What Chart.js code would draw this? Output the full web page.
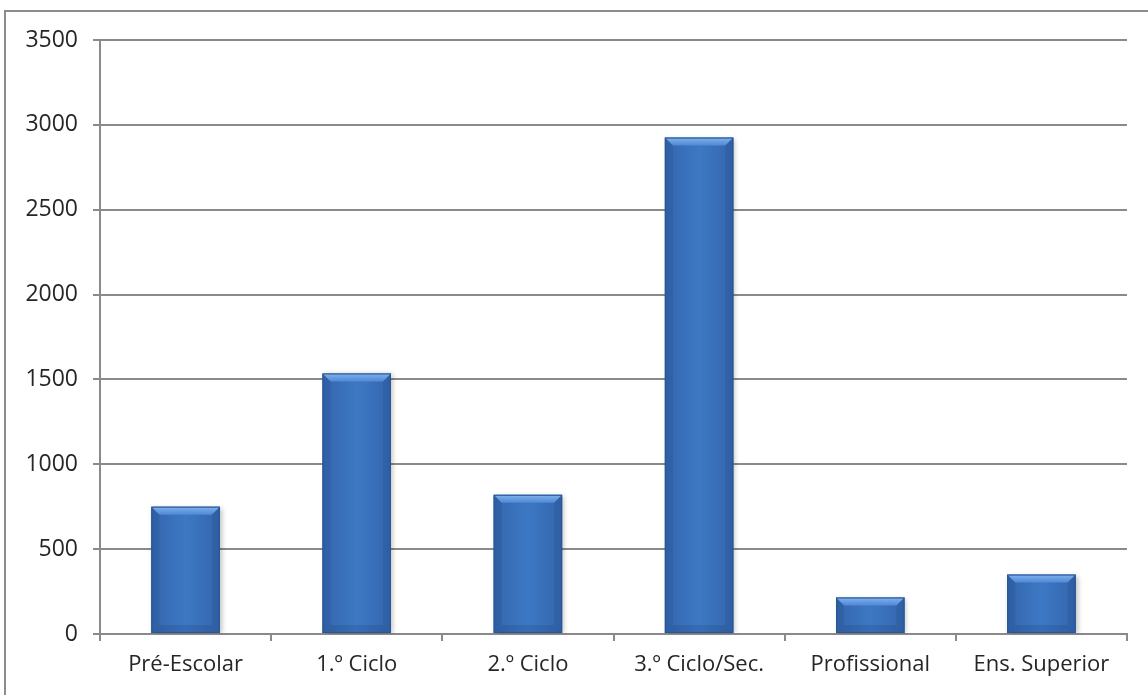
<!DOCTYPE html>
<html lang="pt">
<head>
    <meta charset="UTF-8">
    <title>Alunos por nível de ensino</title>
    <script src="https://cdn.jsdelivr.net/npm/chart.js"></script>
    <style>
        body { margin: 0; background: #fff; }
        #wrap { position: relative; width: 1148px; height: 695px; overflow: hidden; }
        #frame { position: absolute; left: 4px; top: 10px; width: 1200px; height: 800px; border: 2px solid #8c8c8c; }
        #grafico { position: absolute; left: 0; top: 0; }
    </style>
</head>
<body>
<div id="wrap">
    <div id="frame"></div>
    <canvas id="grafico" width="1148" height="695"></canvas>
</div>

<script>
    // Níveis de ensino e número de alunos
    const niveis = ['Pré-Escolar', '1.º Ciclo', '2.º Ciclo', '3.º Ciclo/Sec.', 'Profissional', 'Ens. Superior'];
    const alunos = [750, 1535, 820, 2925, 215, 350];

    const corTexto = '#262626';
    const corLinha = '#8a8a8a';

    // Sombra e relevo das barras
    const relevo = {
        id: 'relevo',
        beforeDatasetsDraw(chart) {
            const ctx = chart.ctx;
            ctx.save();
            ctx.shadowColor = 'rgba(0,0,0,0.25)';
            ctx.shadowBlur = 5;
            ctx.shadowOffsetX = 2;
            ctx.shadowOffsetY = 1;
        },
        afterDatasetsDraw(chart) {
            const ctx = chart.ctx;
            ctx.restore();
            chart.getDatasetMeta(0).data.forEach(bar => {
                const l = bar.x - bar.width / 2, r = bar.x + bar.width / 2;
                const t = bar.y, b = bar.base;
                const bv = Math.min(8, (b - t) / 3);
                ctx.save();
                // corpo com gradiente horizontal suave
                const g = ctx.createLinearGradient(l, 0, r, 0);
                g.addColorStop(0, '#3466ad');
                g.addColorStop(0.5, '#3d78c4');
                g.addColorStop(1, '#3466ad');
                ctx.fillStyle = g;
                ctx.fillRect(l, t, r - l, b - t);
                // topo claro
                const gt = ctx.createLinearGradient(0, t, 0, t + bv);
                gt.addColorStop(0, '#80b2ee');
                gt.addColorStop(1, '#4f89d4');
                ctx.fillStyle = gt;
                ctx.beginPath();
                ctx.moveTo(l, t); ctx.lineTo(r, t); ctx.lineTo(r - bv, t + bv); ctx.lineTo(l + bv, t + bv);
                ctx.closePath(); ctx.fill();
                // laterais
                ctx.fillStyle = 'rgba(20,50,100,0.14)';
                ctx.beginPath();
                ctx.moveTo(l, t); ctx.lineTo(l + bv, t + bv); ctx.lineTo(l + bv, b - bv); ctx.lineTo(l, b);
                ctx.closePath(); ctx.fill();
                ctx.beginPath();
                ctx.moveTo(r, t); ctx.lineTo(r - bv, t + bv); ctx.lineTo(r - bv, b - bv); ctx.lineTo(r, b);
                ctx.closePath(); ctx.fill();
                // base
                ctx.fillStyle = 'rgba(20,50,100,0.16)';
                ctx.beginPath();
                ctx.moveTo(l, b); ctx.lineTo(l + bv, b - bv); ctx.lineTo(r - bv, b - bv); ctx.lineTo(r, b);
                ctx.closePath(); ctx.fill();
                ctx.strokeStyle = '#2a5592';
                ctx.lineWidth = 1;
                ctx.strokeRect(l + 0.5, t + 0.5, r - l - 1, b - t - 1);
                ctx.restore();
            });
        }
    };

    new Chart(document.getElementById('grafico'), {
        type: 'bar',
        data: {
            labels: niveis,
            datasets: [{
                data: alunos,
                backgroundColor: '#3d78c4',
                borderWidth: 0,
                barPercentage: 0.4,
                categoryPercentage: 1
            }]
        },
        options: {
            responsive: false,
            animation: false,
            layout: { padding: { top: 40, right: 21, left: 0, bottom: 0 } },
            plugins: {
                legend: { display: false },
                tooltip: { enabled: false }
            },
            scales: {
                x: {
                    grid: { drawOnChartArea: false, drawTicks: true, tickLength: 7, color: corLinha, lineWidth: 2 },
                    border: { color: corLinha, width: 2 },
                    ticks: { color: corTexto, font: { family: 'Open Sans', size: 22 }, padding: 11, maxRotation: 0 },
                    afterFit(scale) { scale.height = 61; }
                },
                y: {
                    min: 0,
                    max: 3500,
                    ticks: {
                        stepSize: 500,
                        color: corTexto,
                        font: { family: 'Open Sans', size: 23 },
                        padding: 15,
                        callback: v => String(v)
                    },
                    grid: { color: corLinha, lineWidth: 2, drawTicks: true, tickLength: 7 },
                    border: { color: corLinha, width: 2 },
                    afterFit(scale) { scale.width = 100; }
                }
            }
        },
        plugins: [relevo]
    });
</script>
</body>
</html>
